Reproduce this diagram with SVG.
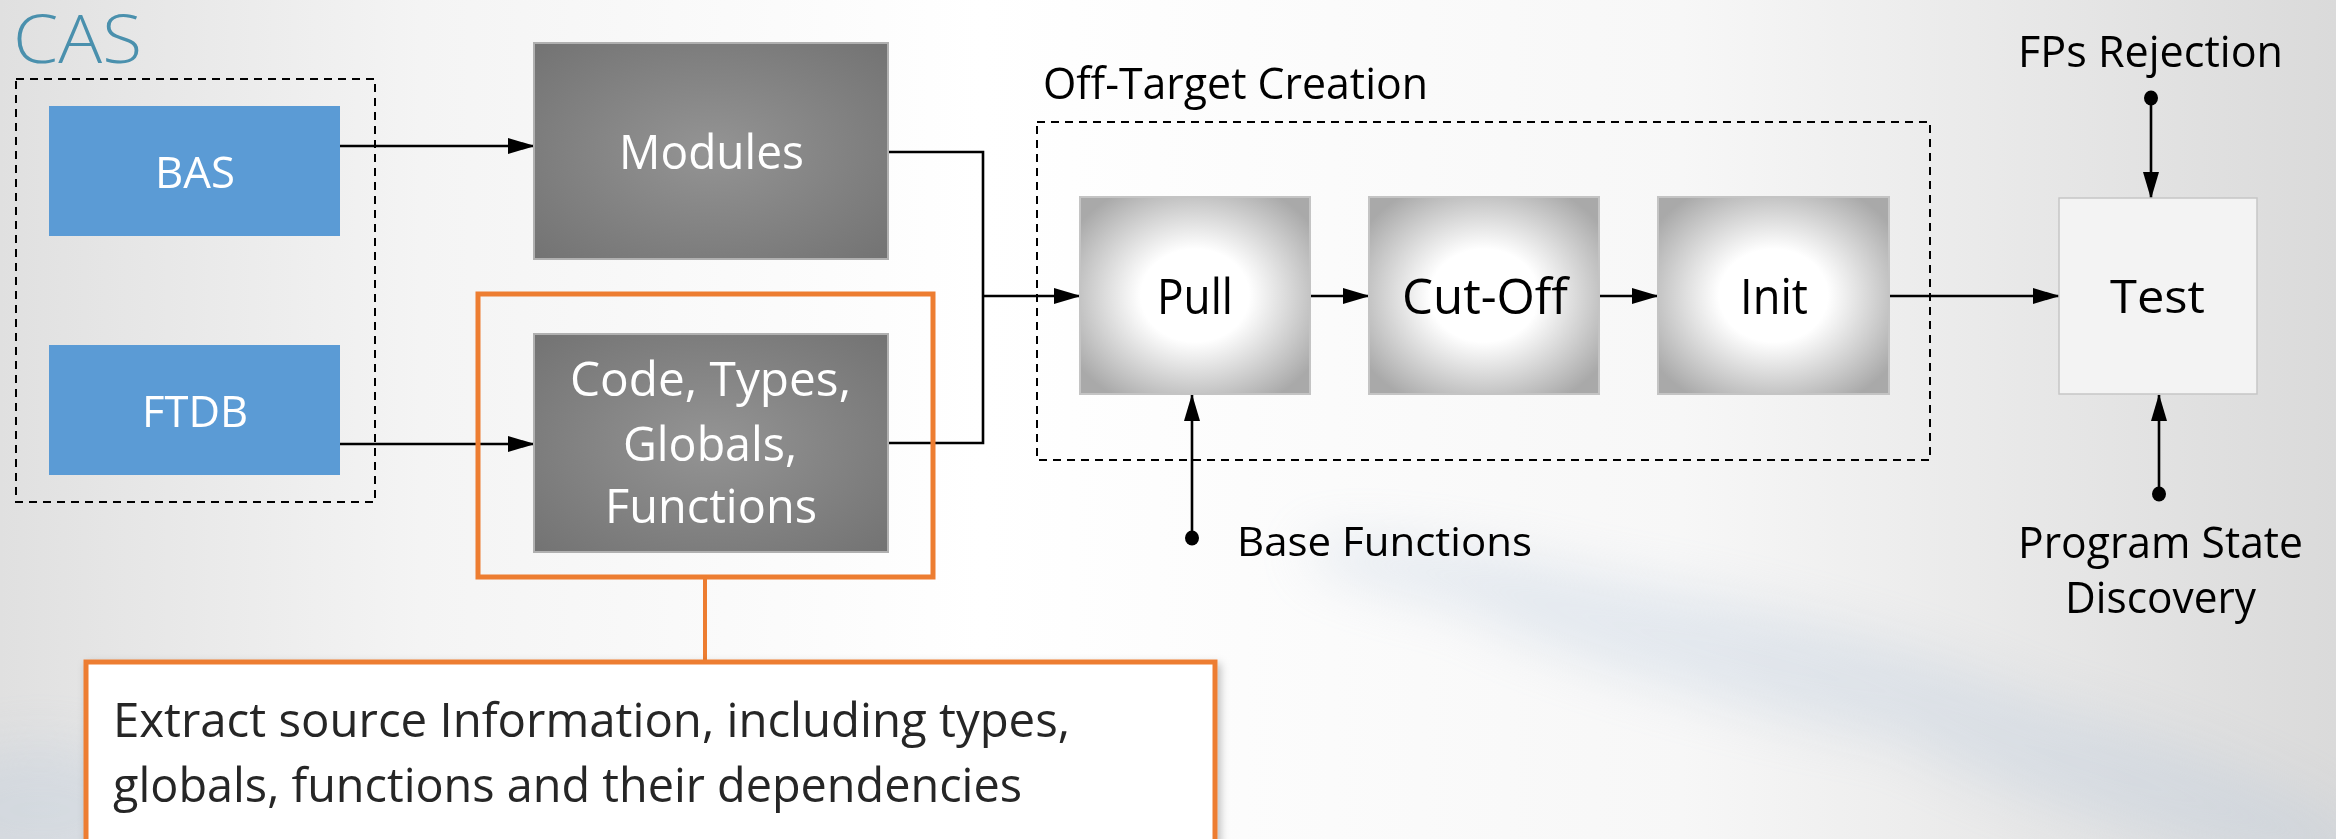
<svg xmlns="http://www.w3.org/2000/svg" width="2336" height="839" viewBox="0 0 2336 839">
  <defs>
    <linearGradient id="bgH" x1="0" y1="0" x2="1" y2="0">
      <stop offset="0" stop-color="#e0e0e0"/>
      <stop offset="0.18" stop-color="#f4f4f4"/>
      <stop offset="0.42" stop-color="#ffffff"/>
      <stop offset="0.72" stop-color="#f7f7f7"/>
      <stop offset="1" stop-color="#dadada"/>
    </linearGradient>
    <radialGradient id="darkFill" cx="0.5" cy="0.5" r="0.7">
      <stop offset="0" stop-color="#949494"/>
      <stop offset="1" stop-color="#737373"/>
    </radialGradient>
    <radialGradient id="lightFill" cx="0.5" cy="0.5" r="0.62">
      <stop offset="0" stop-color="#ffffff"/>
      <stop offset="0.38" stop-color="#ffffff"/>
      <stop offset="1" stop-color="#a9a9a9"/>
    </radialGradient>
    <filter id="haze" x="-30%" y="-30%" width="160%" height="160%">
      <feGaussianBlur stdDeviation="26"/>
    </filter>
    <filter id="shadow" x="-5%" y="-5%" width="110%" height="115%">
      <feDropShadow dx="3" dy="4" stdDeviation="4" flood-color="#000" flood-opacity="0.25"/>
    </filter>
    <marker id="arrow" markerUnits="userSpaceOnUse" markerWidth="27" markerHeight="16" refX="26" refY="8" orient="auto">
      <path d="M0,0 L27,8 L0,16 Z" fill="#000"/>
    </marker>
    <marker id="dot" markerUnits="userSpaceOnUse" markerWidth="16" markerHeight="18" refX="8" refY="9" orient="auto">
      <ellipse cx="8" cy="9" rx="7.5" ry="7" fill="#000"/>
    </marker>
    <style>
      .lbl { font-family: "Open Sans", "Liberation Sans", sans-serif; }
      .wht { fill: #ffffff; }
      .blk { fill: #000000; }
      .blue { fill: #5b9bd5; }
      .dark { fill: url(#darkFill); stroke: #b0b0b0; stroke-width: 2; }
      .light { fill: url(#lightFill); stroke: #c4c4c4; stroke-width: 2; }
      .dash { fill: none; stroke: #000; stroke-width: 2; stroke-dasharray: 8 6; }
      .wire { fill: none; stroke: #000; stroke-width: 2.6; }
      .orange { fill: none; stroke: #ed7d31; stroke-width: 5; }
    </style>
  </defs>

  <!-- backdrop -->
  <rect x="0" y="0" width="2336" height="839" fill="url(#bgH)"/>
  <g filter="url(#haze)" fill="#b9c9dc" opacity="0.32">
    <ellipse cx="40" cy="810" rx="110" ry="65"/>
    <ellipse cx="1760" cy="660" rx="340" ry="50" transform="rotate(14 1760 660)"/>
    <ellipse cx="2100" cy="770" rx="280" ry="50" transform="rotate(18 2100 770)"/>
    <ellipse cx="1500" cy="585" rx="200" ry="30" transform="rotate(10 1500 585)"/>
  </g>

  <!-- title -->
  <text x="13" y="63" class="lbl" font-size="67" font-weight="300" fill="#4a90ad" textLength="129" lengthAdjust="spacingAndGlyphs">CAS</text>

  <!-- group frames -->
  <rect id="cas-frame" x="16" y="79" width="359" height="423" class="dash"/>
  <g id="off-target">
    <rect x="1037" y="122" width="893" height="338" class="dash"/>
    <text x="1043" y="99" class="lbl blk" font-size="44" textLength="385" lengthAdjust="spacingAndGlyphs">Off-Target Creation</text>
  </g>

  <!-- connectors -->
  <g id="connectors">
    <path class="wire" d="M340,146 H534" marker-end="url(#arrow)"/>
    <path class="wire" d="M340,444 H534" marker-end="url(#arrow)"/>
    <path class="wire" d="M889,152 H983 V443 H889"/>
    <path class="wire" d="M983,296 H1080" marker-end="url(#arrow)"/>
    <path class="wire" d="M1310,296 H1369" marker-end="url(#arrow)"/>
    <path class="wire" d="M1599,296 H1658" marker-end="url(#arrow)"/>
    <path class="wire" d="M1889,296 H2059" marker-end="url(#arrow)"/>
    <path class="wire" d="M1192,538 V395" marker-start="url(#dot)" marker-end="url(#arrow)"/>
    <path class="wire" d="M2151,98 V198" marker-start="url(#dot)" marker-end="url(#arrow)"/>
    <path class="wire" d="M2159,494 V395" marker-start="url(#dot)" marker-end="url(#arrow)"/>
    <path d="M705,577 V662" fill="none" stroke="#ed7d31" stroke-width="4"/>
  </g>

  <!-- nodes -->
  <g id="bas">
    <rect x="49" y="106" width="291" height="130" class="blue"/>
    <text x="155" y="188" class="lbl wht" font-size="44" textLength="80" lengthAdjust="spacingAndGlyphs">BAS</text>
  </g>
  <g id="ftdb">
    <rect x="49" y="345" width="291" height="130" class="blue"/>
    <text x="142" y="427" class="lbl wht" font-size="44" textLength="106" lengthAdjust="spacingAndGlyphs">FTDB</text>
  </g>
  <g id="modules">
    <rect x="534" y="43" width="354" height="216" class="dark"/>
    <text x="619" y="169" class="lbl wht" font-size="47" textLength="185" lengthAdjust="spacingAndGlyphs">Modules</text>
  </g>
  <g id="code-info">
    <rect x="534" y="334" width="354" height="218" class="dark"/>
    <text x="570" y="396" class="lbl wht" font-size="47" textLength="281" lengthAdjust="spacingAndGlyphs">Code, Types,</text>
    <text x="623" y="461" class="lbl wht" font-size="47" textLength="174" lengthAdjust="spacingAndGlyphs">Globals,</text>
    <text x="605" y="523" class="lbl wht" font-size="47" textLength="212" lengthAdjust="spacingAndGlyphs">Functions</text>
  </g>
  <g id="highlight">
    <rect x="478" y="294" width="455" height="283" class="orange"/>
  </g>
  <g id="pull">
    <rect x="1080" y="197" width="230" height="197" class="light"/>
    <text x="1157" y="314" class="lbl blk" font-size="49" textLength="76" lengthAdjust="spacingAndGlyphs">Pull</text>
  </g>
  <g id="cut-off">
    <rect x="1369" y="197" width="230" height="197" class="light"/>
    <text x="1402" y="314" class="lbl blk" font-size="49" textLength="166" lengthAdjust="spacingAndGlyphs">Cut-Off</text>
  </g>
  <g id="init">
    <rect x="1658" y="197" width="231" height="197" class="light"/>
    <text x="1740" y="314" class="lbl blk" font-size="49" textLength="68" lengthAdjust="spacingAndGlyphs">Init</text>
  </g>
  <g id="test">
    <rect x="2059" y="198" width="198" height="196" fill="#f3f3f3" stroke="#c6c6c6" stroke-width="1.5"/>
    <text x="2110" y="313" class="lbl blk" font-size="46" textLength="95" lengthAdjust="spacingAndGlyphs">Test</text>
  </g>
  <g id="base-functions">
    <text x="1237" y="556" class="lbl blk" font-size="41" textLength="295" lengthAdjust="spacingAndGlyphs">Base Functions</text>
  </g>
  <g id="fps-rejection">
    <text x="2018" y="67" class="lbl blk" font-size="44" textLength="265" lengthAdjust="spacingAndGlyphs">FPs Rejection</text>
  </g>
  <g id="program-state">
    <text x="2018" y="558" class="lbl blk" font-size="44" textLength="285" lengthAdjust="spacingAndGlyphs">Program State</text>
    <text x="2065" y="613" class="lbl blk" font-size="44" textLength="191" lengthAdjust="spacingAndGlyphs">Discovery</text>
  </g>
  <g id="callout">
    <rect x="86" y="662" width="1129" height="190" fill="#ffffff" stroke="#ed7d31" stroke-width="5" filter="url(#shadow)"/>
    <text x="113" y="737" class="lbl" fill="#262626" font-size="48" textLength="957" lengthAdjust="spacingAndGlyphs">Extract source Information, including types,</text>
    <text x="113" y="802" class="lbl" fill="#262626" font-size="48" textLength="909" lengthAdjust="spacingAndGlyphs">globals, functions and their dependencies</text>
  </g>
</svg>
